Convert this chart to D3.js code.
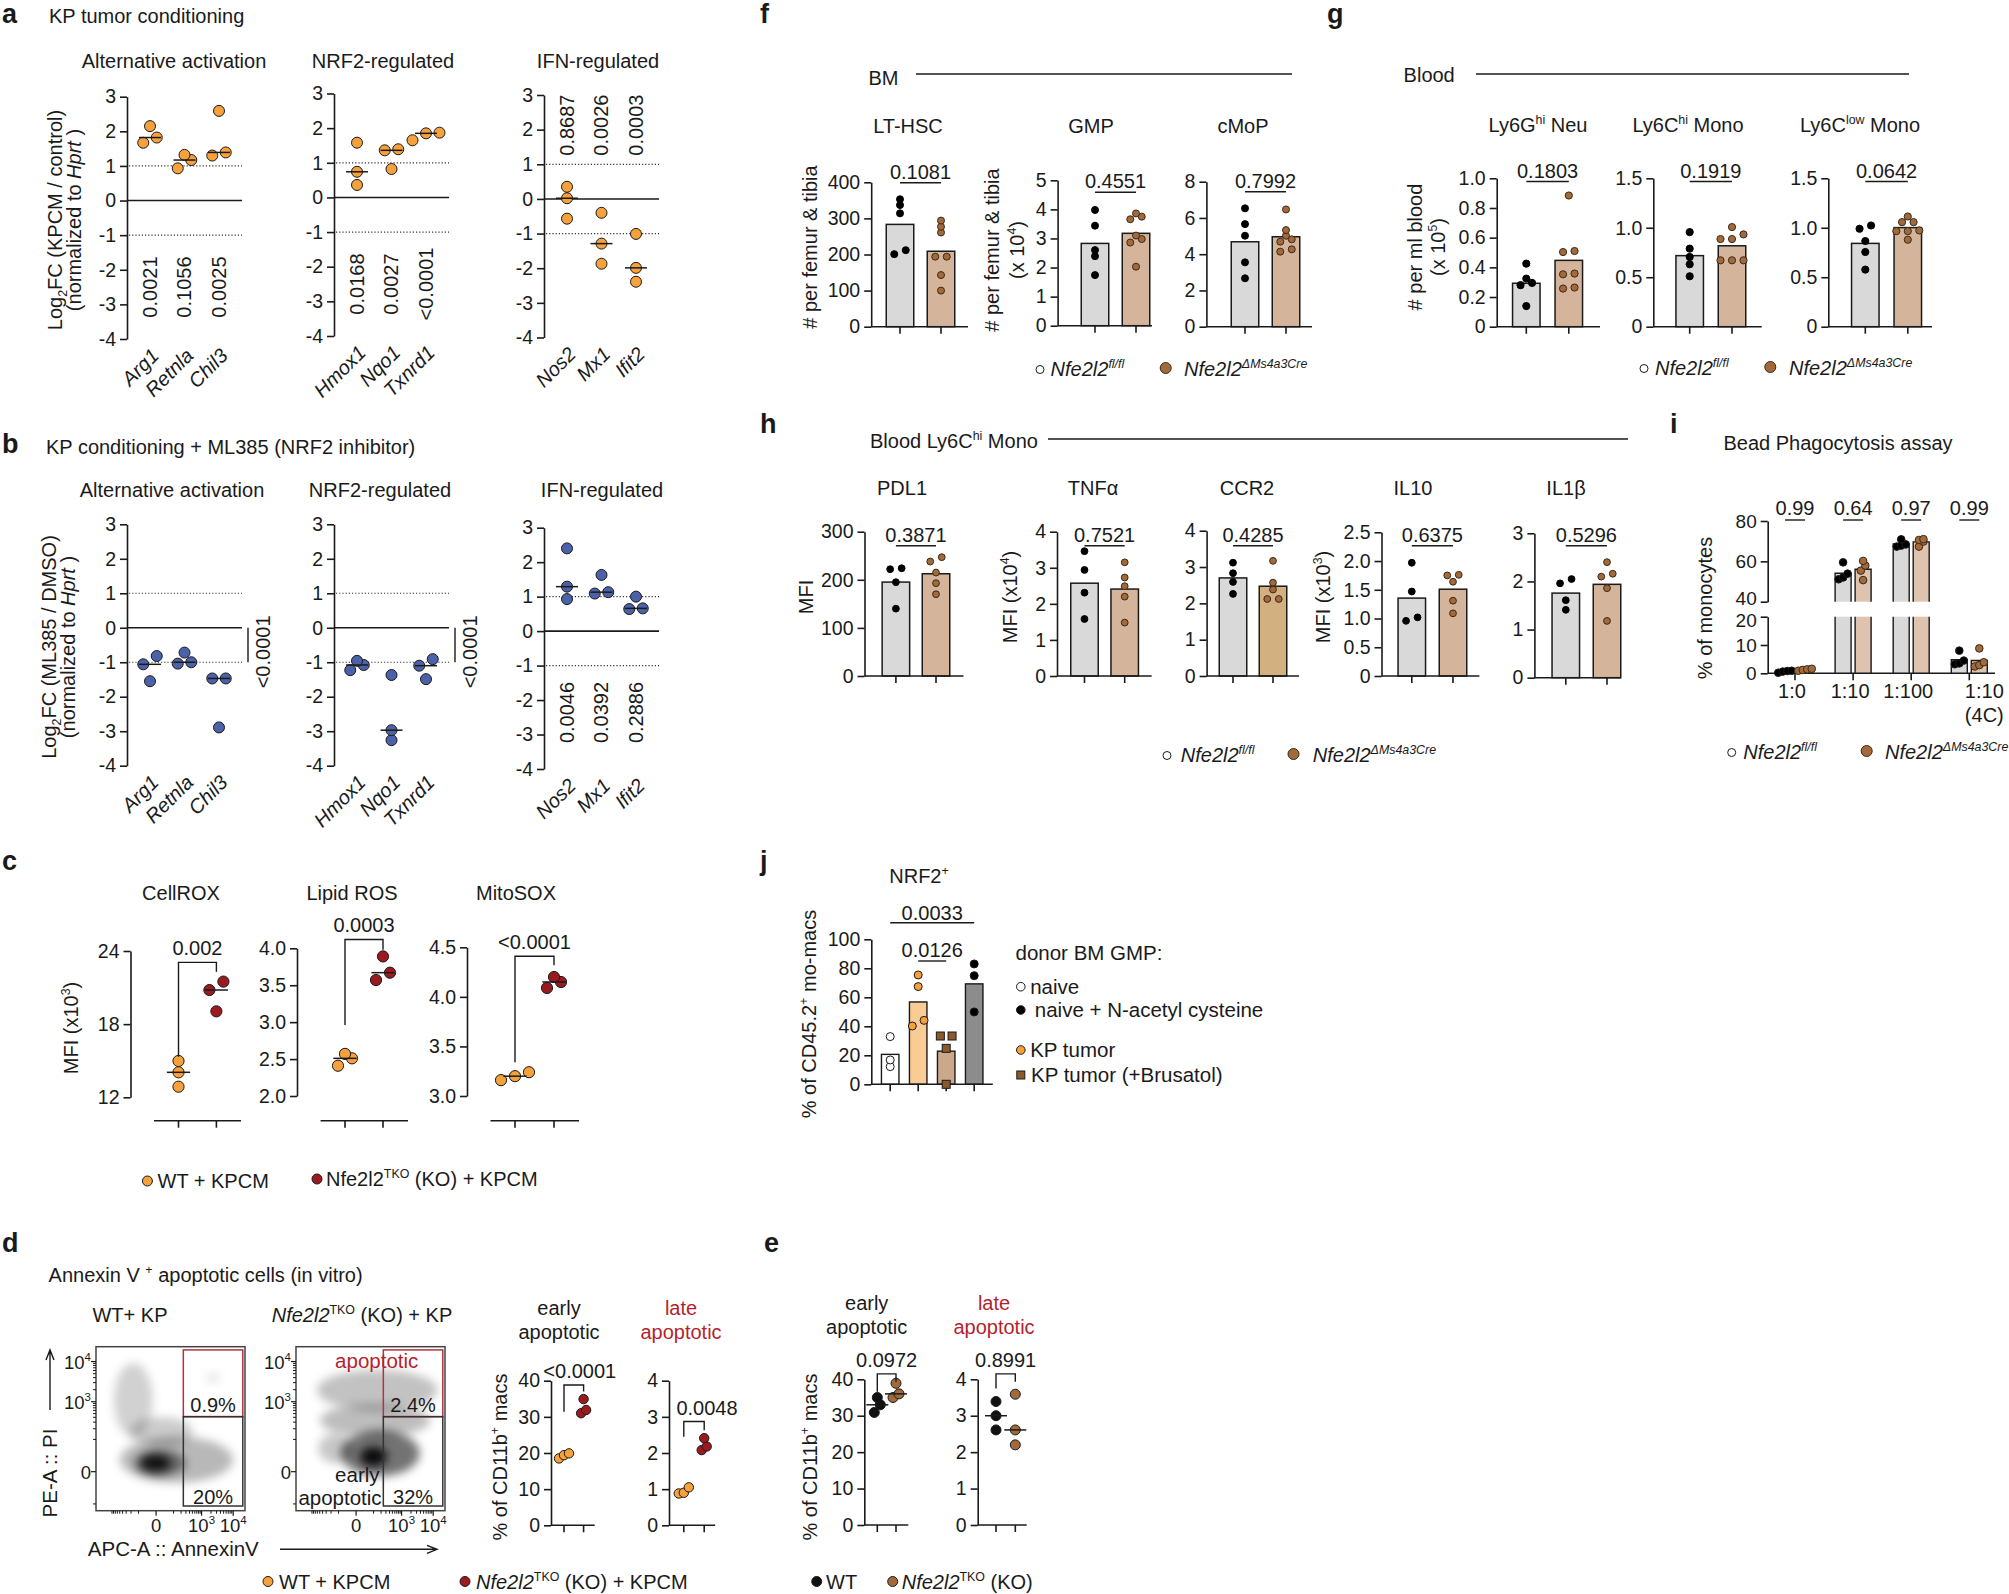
<!DOCTYPE html>
<html>
<head>
<meta charset="utf-8">
<script src="https://cdn.jsdelivr.net/npm/d3@7/dist/d3.min.js"></script>
<style>
  body { margin: 0; background: #fff; }
  svg text { font-family: "Liberation Sans", Arial, Helvetica, sans-serif; }
</style>
</head>
<body>
<svg id="figure" width="2009" height="1594"></svg>
<script>
'use strict'

// a, b: qPCR log2 fold changes
var foldGroups = ['Alternative activation', 'NRF2-regulated', 'IFN-regulated'];
var foldGenes = [['Arg1', 'Retnla', 'Chil3'], ['Hmox1', 'Nqo1', 'Txnrd1'], ['Nos2', 'Mx1', 'Ifit2']];
var foldTicks = [3, 2, 1, 0, -1, -2, -3, -4];
var kpFold = [
	[[1.67, 2.15, 1.82], [1.32, 0.93, 1.17], [1.30, 2.59, 1.39]],
	[[1.58, 0.74, 0.36], [1.39, 0.82, 1.36], [1.65, 1.87, 1.85]],
	[[0.35, 0.02, -0.57], [-0.40, -1.29, -1.87], [-1.01, -1.99, -2.39]]
];
var kpFoldP = [['0.0021', '0.1056', '0.0025'], ['0.0168', '0.0027', '<0.0001'], ['0.8687', '0.0026', '0.0003']];
var mlFold = [
	[[-0.82, -1.55, -1.06], [-0.72, -1.04, -1.00], [-1.47, -1.47, -2.89]],
	[[-1.23, -0.96, -1.08], [-1.37, -2.97, -3.26], [-0.91, -1.49, -1.10]],
	[[2.40, 1.29, 0.93], [1.63, 1.09, 1.13], [1.00, 0.64, 0.66]]
];
var mlFoldP = ['<0.0001', '<0.0001', ['0.0046', '0.0392', '0.2886']];

// c: ROS probes, MFI x10^3
var rosAssays = ['CellROX', 'Lipid ROS', 'MitoSOX'];
var rosTicks = [[12, 18, 24], [2.0, 2.5, 3.0, 3.5, 4.0], [3.0, 3.5, 4.0, 4.5]];
var rosWT = [[14.98, 14.05, 12.87], [2.57, 2.41, 2.51], [3.16, 3.24, 3.20]];
var rosKO = [[21.49, 20.80, 19.05], [3.57, 3.89, 3.67], [4.20, 4.09, 4.15]];
var rosP = ['0.002', '0.0003', '<0.0001'];

// d, e: apoptosis
var apoTitles = [['early', 'apoptotic'], ['late', 'apoptotic']];
var apoTicks = [[0, 10, 20, 30, 40], [0, 1, 2, 3, 4]];
var vitroWT = [[18.5, 19.4, 19.9], [1.05, 0.88, 0.90]];
var vitroKO = [[34.9, 31.9, 31.0], [2.41, 2.18, 2.08]];
var vitroP = ['<0.0001', '0.0048'];
var vivoWT = [[35.0, 30.9, 33.0], [3.39, 3.00, 2.61]];
var vivoKO = [[38.9, 35.0, 36.0], [3.59, 2.61, 2.20]];
var vivoP = ['0.0972', '0.8991'];
var flowGatePct = [['0.9%', '20%'], ['2.4%', '32%']];
var flowGates = { annexin: [242, 19900], late: [416, 19400], early: [-115, 416] };
// density clouds: [AnnexinV range], [PI range], relative density
var flowDensityWT = [
	[[-495, 9900], [-16.7, 119], 0.28],
	[[-780, -11], [119, 9200], 0.18],
	[[-213, 518], [60, 403], 0.20],
	[[1416, 3770], [2990, 5260], 0.10],
	[[-150, 300], [-5, 45], 0.45],
	[[-80, 73], [0.4, 30], 0.85]
];
var flowDensityKO = [
	[[-620, 13700], [596, 6300], 0.24],
	[[-495, 8000], [119, 874], 0.26],
	[[-556, -11], [12, 147], 0.22],
	[[-80, 3770], [-5.6, 182], 0.55],
	[[13, 325], [6.7, 60], 0.90]
];

// f: bone marrow progenitors
var bmCells = ['LT-HSC', 'GMP', 'cMoP'];
var bmTicks = [[0, 100, 200, 300, 400], [0, 1, 2, 3, 4, 5], [0, 2, 4, 6, 8]];
var bmFl = [[353, 337, 314, 201, 212], [3.98, 3.44, 2.60, 2.39, 1.74], [6.53, 5.66, 5.02, 3.55, 2.67]];
var bmKO = [[294, 261, 277, 194, 194, 143, 100], [3.75, 3.86, 3.66, 2.98, 3.10, 2.86, 2.03], [6.47, 5.33, 4.82, 4.69, 5.02, 4.14, 4.27]];
var bmP = ['0.1081', '0.4551', '0.7992'];

// g: blood myeloid cells
var bloodCells = [['Ly6G', ['hi', '^'], ' Neu'], ['Ly6C', ['hi', '^'], ' Mono'], ['Ly6C', ['low', '^'], ' Mono']];
var bloodTicks = [[0, 0.2, 0.4, 0.6, 0.8, 1.0], [0, 0.5, 1.0, 1.5], [0, 0.5, 1.0, 1.5]];
var bloodFl = [[0.425, 0.324, 0.28, 0.295, 0.139], [0.956, 0.705, 0.631, 0.789, 0.51], [1.023, 0.99, 0.866, 0.755, 0.577]];
var bloodKO = [[0.884, 0.503, 0.51, 0.353, 0.358, 0.257, 0.264], [1.007, 0.933, 0.886, 0.886, 0.671, 0.671, 0.671], [1.114, 1.057, 1.057, 0.973, 0.966, 0.966, 0.879]];
var bloodP = ['0.1803', '0.1919', '0.0642'];

// h: blood Ly6Chi monocyte markers
var monoMarkers = ['PDL1', 'TNF\u03b1', 'CCR2', 'IL10', 'IL1\u03b2'];
var monoTicks = [[0, 100, 200, 300], [0, 1, 2, 3, 4], [0, 1, 2, 3, 4], [0, 0.5, 1.0, 1.5, 2.0, 2.5], [0, 1, 2, 3]];
var monoFl = [[222, 224, 195, 140], [3.46, 2.94, 2.31, 1.58], [3.12, 2.83, 2.59, 2.26], [1.97, 1.47, 0.96, 1.02], [1.96, 2.05, 1.61, 1.41]];
var monoKO = [[247, 238, 215, 193, 170], [3.15, 2.73, 2.49, 2.20, 1.48], [3.17, 2.57, 2.38, 2.12, 2.12], [1.76, 1.75, 1.64, 1.31, 1.09], [2.40, 2.10, 2.16, 1.86, 1.18]];
var monoP = ['0.3871', '0.7521', '0.4285', '0.6375', '0.5296'];

// i: bead phagocytosis
var phagoRatios = ['1:0', '1:10', '1:100', '1:10 (4C)'];
var phagoFl = [[0.2, 0.9, 0.8, 0.6], [51.1, 59.5, 53.9, 52.0], [70.9, 67.3, 68.4, 67.8], [8.0, 3.2, 4.5, 3.5]];
var phagoKO = [[0.9, 1.4, 1.2, 1.6], [60.2, 55.4, 57.9, 50.7], [67.3, 71.0, 70.6, 69.8], [8.8, 2.4, 3.9, 2.9]];
var phagoP = ['0.99', '0.64', '0.97', '0.99'];

// j: NRF2+ donor mo-macs
var nrf2Groups = ['naive', 'KP tumor', 'KP tumor (+Brusatol)', 'naive + N-acetyl cysteine'];
var nrf2Values = [[32.9, 16.8, 12.2], [75.4, 67.4, 40.2, 44.1], [33.3, 33.3, 24.8, 0], [83.0, 74.9, 49.9]];
var nrf2P = [['0.0033', 0, 3], ['0.0126', 1, 2]];

var colors = {
	ink: '#1a1a1a', orange: '#F6A13B', blue: '#4B62A9', darkRed: '#9A1A20',
	brown: '#A2693A', grey: '#D9D9D9', tan: '#D4B49B', tanLight: '#DEC3AE', red: '#B51F2E'
};
var LETTER = { size: 27, bold: true };
var TICK = 19.5;
var fmt1 = function(d) { return d === 0 ? '0' : d3.format('.1f')(d); };

var app = {
	init: function() {
		app.svg = d3.select('#figure');
		var defs = app.svg.append('defs');
		defs.append('filter').attr('id', 'blur')
			.attr('x', '-50%').attr('y', '-50%').attr('width', '200%').attr('height', '200%')
			.append('feGaussianBlur').attr('stdDeviation', 5);

		app.panelA();
		app.panelB();
		app.panelC();
		app.panelD();
		app.panelE();
		app.panelF();
		app.panelG();
		app.panelH();
		app.panelI();
		app.panelJ();
	},

	text: function(x, y, parts, o) {
		o = o || {};
		var fs = o.size || 20;
		var t = app.svg.append('text')
			.attr('x', x).attr('y', y)
			.attr('font-size', fs)
			.attr('text-anchor', o.anchor || 'start')
			.attr('fill', o.color || colors.ink);
		if (o.rotate) { t.attr('transform', 'rotate(' + o.rotate + ' ' + x + ' ' + y + ')'); }
		if (o.bold) { t.attr('font-weight', 'bold'); }
		if (o.italic) { t.attr('font-style', 'italic'); }
		var shift = 0;
		(typeof parts === 'string' ? [parts] : parts).forEach(function(p) {
			if (typeof p === 'string') { p = [p, '']; }
			var span = t.append('tspan').text(p[0]);
			var target = p[1].indexOf('^') > -1 ? -fs * 0.4 : (p[1].indexOf('_') > -1 ? fs * 0.25 : 0);
			if (target) { span.attr('font-size', fs * 0.62); }
			if (p[1].indexOf('i') > -1) { span.attr('font-style', 'italic'); }
			if (target !== shift) { span.attr('dy', target - shift); shift = target; }
		});
		return t;
	},

	line: function(x1, y1, x2, y2, o) {
		o = o || {};
		return app.svg.append('line')
			.attr('x1', x1).attr('y1', y1).attr('x2', x2).attr('y2', y2)
			.attr('stroke', o.color || colors.ink)
			.attr('stroke-width', o.width || 1.6)
			.attr('stroke-dasharray', o.dash || null);
	},

	axis: function(x, y, ticks, fmt, size) {
		var g = app.svg.append('g')
			.attr('transform', 'translate(' + x + ',0)')
			.call(d3.axisLeft(y).tickValues(ticks).tickFormat(fmt || String)
				.tickSize(7).tickSizeOuter(0).tickPadding(4));
		g.select('.domain').attr('stroke', colors.ink).attr('stroke-width', 1.6);
		g.selectAll('.tick line').attr('stroke', colors.ink).attr('stroke-width', 1.6);
		g.selectAll('.tick text').attr('fill', colors.ink).style('font-size', (size || TICK) + 'px');
		return g;
	},

	baseAxis: function(x0, x1, y0, centers) {
		app.line(x0, y0, x1, y0);
		centers.forEach(function(c) { app.line(c, y0, c, y0 + 7); });
	},

	dots: function(cx, vals, y, o) {
		var pts = vals.map(function(v) { return { v: v, y: y(v) }; })
			.sort(function(a, b) { return b.y - a.y; });
		var rows = [];
		pts.forEach(function(p) {
			var row = rows[rows.length - 1];
			if (row && Math.abs(row[0].y - p.y) < o.minDist) { row.push(p); } else { rows.push([p]); }
		});
		rows.forEach(function(row) {
			row.forEach(function(p, k) { p.x = cx + (k - (row.length - 1) / 2) * o.step; });
		});
		var sel = app.svg.append('g').selectAll('.pt').data(pts).join(o.square ? 'rect' : 'circle');
		if (o.square) {
			sel.attr('x', function(d) { return d.x - o.r; }).attr('y', function(d) { return d.y - o.r; })
				.attr('width', o.r * 2).attr('height', o.r * 2);
		} else {
			sel.attr('cx', function(d) { return d.x; }).attr('cy', function(d) { return d.y; }).attr('r', o.r);
		}
		sel.attr('fill', o.fill).attr('stroke', o.stroke || colors.ink).attr('stroke-width', o.sw || 1);
	},

	median: function(cx, vals, y, half) {
		var m = d3.median(vals);
		app.line(cx - half, y(m), cx + half, y(m), { width: 1.5 });
	},

	drawFold: function(values, pvals, o) {
		foldGroups.forEach(function(name, gi) {
			var ax = o.axes[gi];
			var y = d3.scaleLinear().domain([3, -4]).range(o.ranges[gi]);
			var x = d3.scalePoint().domain(foldGenes[gi]).range([ax + 23, ax + 92]);
			var xEnd = ax + 115;

			app.text(o.titleX[gi], o.titleY, name, { anchor: 'middle' });
			[1, -1].forEach(function(v) {
				app.line(ax + 2, y(v), xEnd, y(v), { width: 1.2, dash: '1.2 2', color: '#333' });
			});
			app.line(ax, y(0), xEnd, y(0), { width: 1.6 });
			app.axis(ax, y, foldTicks, String);

			foldGenes[gi].forEach(function(gene, ci) {
				var cx = x(gene);
				app.dots(cx, values[gi][ci], y, { r: 5.5, fill: o.color, minDist: 9, step: 13.5 });
				app.median(cx, values[gi][ci], y, 11);
				app.text(cx + 10, y(-4) + 18, [[gene, 'i']], { anchor: 'end', rotate: -45 });
				if (Array.isArray(pvals[gi])) {
					app.text(cx + 7, y(o.pAt[gi]), pvals[gi][ci], { anchor: 'middle', rotate: -90 });
				}
			});
			if (!Array.isArray(pvals[gi])) {
				app.line(ax + 121, y(0), ax + 121, y(-1), { width: 1.4 });
				app.text(ax + 143, y(-0.7), pvals[gi], { anchor: 'middle', rotate: -90 });
			}
		});
	},

	drawPair: function(o) {
		var y = d3.scaleLinear().domain(d3.extent(o.ticks)).range(o.range);
		var x = d3.scalePoint().domain(['WT', 'KO']).range(o.centers);
		app.axis(o.ax, y, o.ticks, o.fmt);
		app.baseAxis(o.xa[0], o.xa[1], o.xa[2], o.centers);
		[o.wt, o.ko].forEach(function(vals, k) {
			var cx = x(k ? 'KO' : 'WT');
			app.dots(cx, vals, y, { r: o.r, fill: o.colors[k], minDist: o.minDist, step: o.step });
			if (o.median) { app.median(cx, vals, y, o.r + 6); }
		});
		var b = o.bracket;
		app.svg.append('path')
			.attr('d', 'M' + o.centers[0] + ',' + y(b[1]) + 'V' + y(b[0]) + 'H' + o.centers[1] + 'V' + y(b[2]))
			.attr('fill', 'none').attr('stroke', colors.ink).attr('stroke-width', 1.4);
		app.text((o.centers[0] + o.centers[1]) / 2 + (o.pDx || 0), y(b[0]) - 7, o.p, { anchor: 'middle' });
		o.title.forEach(function(t, i) {
			app.text(o.titleX, o.titleY + i * 24, t, { anchor: 'middle', color: o.titleColor });
		});
	},

	drawBars: function(o) {
		var y = d3.scaleLinear().domain([0, o.max]).range([o.y0, o.y1]);
		var x = d3.scalePoint().domain(['fl', 'ko']).range(o.centers);
		var sets = [o.fl, o.ko];
		sets.forEach(function(vals, k) {
			var m = d3.mean(vals);
			app.svg.append('rect')
				.attr('x', x(k ? 'ko' : 'fl') - o.bw / 2).attr('y', y(m))
				.attr('width', o.bw).attr('height', y(0) - y(m))
				.attr('fill', k ? (o.koFill || colors.tan) : colors.grey)
				.attr('stroke', colors.ink).attr('stroke-width', 1.5);
		});
		app.axis(o.ax, y, o.ticks, o.fmt);
		app.baseAxis(o.ax, o.xEnd, y(0), o.centers);
		sets.forEach(function(vals, k) {
			app.dots(x(k ? 'ko' : 'fl'), vals, y, {
				r: o.r, fill: k ? colors.brown : '#000', stroke: k ? '#3a2a1a' : '#000',
				minDist: 5.5, step: 11.5
			});
		});
		app.line(o.centers[0], o.pY, o.centers[1], o.pY, { width: 1.5 });
		app.text((o.centers[0] + o.centers[1]) / 2, o.pY - 4, o.p, { anchor: 'middle' });
		app.text(o.titleX, o.titleY, o.title, { anchor: 'middle' });
	},

	legendFl: function(xs, yb) {
		app.svg.append('circle').attr('cx', xs[0]).attr('cy', yb - 6.5).attr('r', 4)
			.attr('fill', '#fff').attr('stroke', colors.ink).attr('stroke-width', 1);
		app.text(xs[1], yb, [['Nfe2l2', 'i'], ['fl/fl', 'i^']]);
		app.svg.append('circle').attr('cx', xs[2]).attr('cy', yb - 8).attr('r', 5.5)
			.attr('fill', colors.brown).attr('stroke', '#3a2a1a').attr('stroke-width', 1);
		app.text(xs[3], yb, [['Nfe2l2', 'i'], ['\u0394Ms4a3Cre', 'i^']]);
	},

	legendDot: function(cx, cy, r, fill, tx, parts) {
		app.svg.append('circle').attr('cx', cx).attr('cy', cy).attr('r', r)
			.attr('fill', fill).attr('stroke', colors.ink).attr('stroke-width', 1);
		app.text(tx, cy + 7, parts);
	},

	drawFlow: function(o) {
		var svg = app.svg;
		var x = d3.scaleSymlog().constant(40).domain([-2910, 23300]).range([o.x0, o.x1]);
		var y = d3.scaleSymlog().constant(19).domain([-156, 23300]).range([o.y1, o.y0]);
		svg.select('defs').append('clipPath').attr('id', o.id).append('rect')
			.attr('x', o.x0).attr('y', o.y0).attr('width', o.x1 - o.x0).attr('height', o.y1 - o.y0);
		svg.append('g').attr('clip-path', 'url(#' + o.id + ')')
			.selectAll('ellipse').data(o.density).join('ellipse')
			.attr('cx', function(d) { return (x(d[0][0]) + x(d[0][1])) / 2; })
			.attr('cy', function(d) { return (y(d[1][0]) + y(d[1][1])) / 2; })
			.attr('rx', function(d) { return (x(d[0][1]) - x(d[0][0])) / 2; })
			.attr('ry', function(d) { return (y(d[1][0]) - y(d[1][1])) / 2; })
			.attr('fill', '#000').attr('fill-opacity', function(d) { return d[2]; })
			.attr('filter', 'url(#blur)');
		svg.append('rect').attr('x', o.x0).attr('y', o.y0)
			.attr('width', o.x1 - o.x0).attr('height', o.y1 - o.y0)
			.attr('fill', 'none').attr('stroke', '#444').attr('stroke-width', 1.5);

		var gx0 = x(flowGates.annexin[0]), gx1 = x(flowGates.annexin[1]);
		svg.append('rect').attr('x', gx0).attr('y', y(flowGates.late[1]))
			.attr('width', gx1 - gx0).attr('height', y(flowGates.late[0]) - y(flowGates.late[1]))
			.attr('fill', 'none').attr('stroke', '#B0343E').attr('stroke-width', 1.5);
		svg.append('rect').attr('x', gx0).attr('y', y(flowGates.early[1]))
			.attr('width', gx1 - gx0).attr('height', y(flowGates.early[0]) - y(flowGates.early[1]))
			.attr('fill', 'none').attr('stroke', '#333').attr('stroke-width', 1.5);
		app.text((gx0 + gx1) / 2, y(flowGates.late[0]) - 5, o.pct[0], { anchor: 'middle' });
		app.text((gx0 + gx1) / 2, y(flowGates.early[0]) - 2, o.pct[1], { anchor: 'middle' });

		var labels = [['0'], ['10', ['3', '^']], ['10', ['4', '^']]];
		[0, 1000, 10000].forEach(function(v, i) {
			app.line(o.x0 - 5, y(v), o.x0, y(v), { width: 1.2 });
			app.line(x(v), o.y1, x(v), o.y1 + 5, { width: 1.2 });
			app.text(o.x0 - 5, y(v) + 7, labels[i], { anchor: 'end', size: 18.5 });
			app.text(x(v), o.y1 + 21, labels[i], { anchor: 'middle', size: 18.5 });
		});
		var minor = d3.range(-900, 0, 100).concat(d3.range(100, 1000, 100), d3.range(2000, 10000, 1000));
		minor.forEach(function(v) {
			app.line(x(v), o.y1, x(v), o.y1 + 3, { width: 1 });
			if (v > -150) { app.line(o.x0 - 3, y(v), o.x0, y(v), { width: 1 }); }
		});
	},

	panelA: function() {
		app.text(2, 23, 'a', LETTER);
		app.text(49, 23, 'KP tumor conditioning');
		app.drawFold(kpFold, kpFoldP, {
			axes: [127, 334, 544], ranges: [[96.7, 339], [93.5, 336], [95, 337.5]],
			titleX: [174, 383, 598], titleY: 68, color: colors.orange, pAt: [-2.5, -2.5, 2.13]
		});
		app.text(61.5, 220, ['Log', ['2', '_'], 'FC (KPCM / control)'], { anchor: 'middle', rotate: -90 });
		app.text(81, 220, ['(normalized to ', ['Hprt', 'i'], ' )'], { anchor: 'middle', rotate: -90 });
	},

	panelB: function() {
		app.text(2, 453, 'b', LETTER);
		app.text(46, 454, 'KP conditioning + ML385 (NRF2 inhibitor)');
		app.drawFold(mlFold, mlFoldP, {
			axes: [127, 334, 544], ranges: [[524.3, 765.7], [524.3, 765.7], [527.7, 769]],
			titleX: [172, 380, 602], titleY: 497, color: colors.blue, pAt: [0, 0, -2.36]
		});
		app.text(55.5, 647, ['Log', ['2', '_'], 'FC (ML385 / DMSO)'], { anchor: 'middle', rotate: -90 });
		app.text(75, 647, ['(normalized to ', ['Hprt', 'i'], ' )'], { anchor: 'middle', rotate: -90 });
	},

	panelC: function() {
		app.text(2, 870, 'c', LETTER);
		var lay = [
			{ ax: 130.5, range: [1097.3, 951], xa: [154, 241], centers: [178.5, 216.4], titleX: 181, bracket: [23.07, 15.33, 22.3], fmt: String },
			{ ax: 297, range: [1096, 948.3], xa: [320.6, 408], centers: [345, 383], titleX: 352, bracket: [4.12, 2.96, 3.98], fmt: d3.format('.1f') },
			{ ax: 467, range: [1096, 947.3], xa: [490.5, 579], centers: [515, 554], titleX: 516, bracket: [4.41, 3.34, 4.32], fmt: d3.format('.1f') }
		];
		rosAssays.forEach(function(name, i) {
			var L = lay[i];
			app.drawPair({
				ax: L.ax, range: L.range, ticks: rosTicks[i], fmt: L.fmt,
				xa: [L.xa[0], L.xa[1], 1120.7], centers: L.centers,
				wt: rosWT[i], ko: rosKO[i], colors: [colors.orange, colors.darkRed],
				r: 5.6, minDist: 9, step: 14, median: true,
				bracket: L.bracket, p: rosP[i], title: [name], titleX: L.titleX, titleY: 900
			});
		});
		app.text(77.5, 1028, ['MFI (x10', ['3', '^'], ')'], { anchor: 'middle', rotate: -90 });
		app.legendDot(147.4, 1181, 5, colors.orange, 157.5, 'WT + KPCM');
		app.legendDot(317, 1179, 5, colors.darkRed, 326, ['Nfe2l2', ['TKO', '^'], ' (KO) + KPCM']);
	},

	panelD: function() {
		app.text(2, 1252, 'd', LETTER);
		app.text(48.6, 1282, ['Annexin V ', ['+', '^'], ' apoptotic cells (in vitro)']);
		app.text(130, 1322, 'WT+ KP', { anchor: 'middle' });
		app.text(362, 1322, [['Nfe2l2', 'i'], ['TKO', '^'], ' (KO) + KP'], { anchor: 'middle' });

		app.drawFlow({ id: 'flowWT', x0: 96, x1: 245, y0: 1346.7, y1: 1510.7, density: flowDensityWT, pct: flowGatePct[0] });
		app.drawFlow({ id: 'flowKO', x0: 296, x1: 445, y0: 1346.7, y1: 1510.7, density: flowDensityKO, pct: flowGatePct[1] });
		app.text(376.7, 1368.3, 'apoptotic', { anchor: 'middle', color: colors.red, size: 20.5 });
		app.text(357.3, 1481.7, 'early', { anchor: 'middle', size: 20.5 });
		app.text(340, 1505, 'apoptotic', { anchor: 'middle', size: 20.5 });

		app.text(57, 1473, 'PE-A :: PI', { anchor: 'middle', rotate: -90, size: 20.5 });
		app.svg.append('path').attr('d', 'M50,1410V1352M46,1360L50,1350L54,1360')
			.attr('fill', 'none').attr('stroke', colors.ink).attr('stroke-width', 1.4);
		app.text(173.3, 1556, 'APC-A :: AnnexinV', { anchor: 'middle', size: 20.5 });
		app.svg.append('path').attr('d', 'M280,1549.3H435M427,1545.3L437,1549.3L427,1553.3')
			.attr('fill', 'none').attr('stroke', colors.ink).attr('stroke-width', 1.4);

		var lay = [
			{ ax: 551, xEnd: 594.7, centers: [564, 583.6], bracket: [38.8, 31.4, 37], titleX: 559, pDx: 6 },
			{ ax: 669, xEnd: 715.2, centers: [683.8, 704.2], bracket: [2.87, 2.45, 2.63], titleX: 681, pDx: 13 }
		];
		apoTitles.forEach(function(title, i) {
			var L = lay[i];
			app.drawPair({
				ax: L.ax, range: [1525.3, 1380.7], ticks: apoTicks[i],
				xa: [L.ax, L.xEnd, 1525.3], centers: L.centers,
				wt: vitroWT[i], ko: vitroKO[i], colors: [colors.orange, colors.darkRed],
				r: 4.7, minDist: 7, step: 5, median: false,
				bracket: L.bracket, p: vitroP[i], pDx: L.pDx, title: title, titleX: L.titleX, titleY: 1315,
				titleColor: i ? colors.red : colors.ink
			});
		});
		app.text(507, 1457, ['% of CD11b', ['+', '^'], ' macs'], { anchor: 'middle', rotate: -90 });
		app.legendDot(268, 1581.5, 5, colors.orange, 279, 'WT + KPCM');
		app.legendDot(465, 1581.5, 5, colors.darkRed, 476, [['Nfe2l2', 'i'], ['TKO', '^'], ' (KO) + KPCM']);
	},

	panelE: function() {
		app.text(764, 1252, 'e', LETTER);
		var lay = [
			{ ax: 864.3, xEnd: 908.3, centers: [877.3, 896], bracket: [41.5, 36.6, 39.3], titleX: 866.7 },
			{ ax: 977.7, xEnd: 1026.7, centers: [996, 1015.3], bracket: [4.15, 3.75, 3.93], titleX: 994 }
		];
		apoTitles.forEach(function(title, i) {
			var L = lay[i];
			app.drawPair({
				ax: L.ax, range: [1525, 1379.3], ticks: apoTicks[i],
				xa: [L.ax, L.xEnd, 1525], centers: L.centers,
				wt: vivoWT[i], ko: vivoKO[i], colors: ['#111', colors.brown],
				r: 5, minDist: 8, step: 6, median: true,
				bracket: L.bracket, p: vivoP[i], title: title, titleX: L.titleX, titleY: 1310,
				titleColor: i ? colors.red : colors.ink
			});
		});
		app.text(817, 1457, ['% of CD11b', ['+', '^'], ' macs'], { anchor: 'middle', rotate: -90 });
		app.legendDot(816.7, 1581.5, 5, '#111', 826, 'WT');
		app.legendDot(892.7, 1581.5, 5, colors.brown, 901.7, [['Nfe2l2', 'i'], ['TKO', '^'], ' (KO)']);
	},

	panelF: function() {
		app.text(760, 23, 'f', LETTER);
		app.text(868.5, 85, 'BM');
		app.line(916, 74, 1292, 74, { width: 1.4 });
		var lay = {
			ax: [871.2, 1057.6, 1206.4], y1: [182.3, 180.3, 181.7], y0: [326.7, 325.7, 326.7],
			xEnd: [968, 1152, 1312], centers: [[900, 941], [1095, 1136], [1245, 1286]],
			pY: [182.7, 192.3, 191.7], titleX: [908, 1091, 1243]
		};
		bmCells.forEach(function(name, i) {
			app.drawBars({
				ax: lay.ax[i], y0: lay.y0[i], y1: lay.y1[i], max: d3.max(bmTicks[i]), ticks: bmTicks[i],
				xEnd: lay.xEnd[i], centers: lay.centers[i], bw: 27.5, r: 3.5,
				fl: bmFl[i], ko: bmKO[i], p: bmP[i], pY: lay.pY[i],
				title: name, titleX: lay.titleX[i], titleY: 133
			});
		});
		app.text(817, 247, '# per femur & tibia', { anchor: 'middle', rotate: -90 });
		app.text(999, 250, '# per femur & tibia', { anchor: 'middle', rotate: -90 });
		app.text(1024, 250, ['(x 10', ['4', '^'], ')'], { anchor: 'middle', rotate: -90 });
		app.legendFl([1040, 1050.6, 1165.7, 1184], 376);
	},

	panelG: function() {
		app.text(1327, 23, 'g', LETTER);
		app.text(1403.6, 82, 'Blood');
		app.line(1476, 74, 1909, 74, { width: 1.4 });
		var lay = {
			ax: [1496.7, 1653.3, 1828.3], xEnd: [1600, 1761.7, 1932],
			centers: [[1526.3, 1568.8], [1689.7, 1732], [1865.3, 1907.8]],
			titleX: [1538, 1688, 1860]
		};
		bloodCells.forEach(function(name, i) {
			app.drawBars({
				ax: lay.ax[i], y0: 326.7, y1: 178.3, max: d3.max(bloodTicks[i]), ticks: bloodTicks[i], fmt: fmt1,
				xEnd: lay.xEnd[i], centers: lay.centers[i], bw: 27.5, r: 3.6,
				fl: bloodFl[i], ko: bloodKO[i], p: bloodP[i], pY: 181.5,
				title: name, titleX: lay.titleX[i], titleY: 132
			});
		});
		app.text(1421.5, 247, '# per ml blood', { anchor: 'middle', rotate: -90 });
		app.text(1445, 247, ['(x 10', ['5', '^'], ')'], { anchor: 'middle', rotate: -90 });
		app.legendFl([1644, 1655, 1770.3, 1789], 375);
	},

	panelH: function() {
		app.text(760, 433, 'h', LETTER);
		app.text(870, 448, ['Blood Ly6C', ['hi', '^'], ' Mono']);
		app.line(1048, 439, 1628, 439, { width: 1.4 });
		var lay = {
			ax: [864.5, 1057, 1206.6, 1381.5, 1534.4],
			y1: [531.7, 531.7, 530.7, 532.3, 533.3], y0: [676, 676, 676, 676, 677.7],
			xEnd: [963.5, 1151.6, 1299, 1479.4, 1620.8],
			centers: [[895.9, 936], [1084.5, 1124.7], [1233, 1273], [1411.8, 1453], [1565.8, 1607]],
			titleX: [902, 1093, 1247, 1413, 1566]
		};
		monoMarkers.forEach(function(name, i) {
			app.drawBars({
				ax: lay.ax[i], y0: lay.y0[i], y1: lay.y1[i], max: d3.max(monoTicks[i]), ticks: monoTicks[i],
				fmt: i === 3 ? fmt1 : String,
				xEnd: lay.xEnd[i], centers: lay.centers[i], bw: 27.5, r: 3.4,
				koFill: i === 2 ? '#D2B07F' : colors.tan,
				fl: monoFl[i], ko: monoKO[i], p: monoP[i], pY: 545.7,
				title: name, titleX: lay.titleX[i], titleY: 495
			});
		});
		app.text(813, 597, 'MFI', { anchor: 'middle', rotate: -90 });
		app.text(1016.5, 597, ['MFI (x10', ['4', '^'], ')'], { anchor: 'middle', rotate: -90 });
		app.text(1330, 597, ['MFI (x10', ['3', '^'], ')'], { anchor: 'middle', rotate: -90 });
		app.legendFl([1167, 1180.8, 1293.5, 1312.8], 762);
	},

	panelI: function() {
		var svg = app.svg;
		app.text(1670, 433, 'i', LETTER);
		app.text(1838, 450, 'Bead Phagocytosis assay', { anchor: 'middle' });
		var yLow = d3.scaleLinear().domain([0, 20]).range([673.3, 616.7]);
		var yHigh = d3.scaleLinear().domain([40, 80]).range([601.7, 521]);
		var yv = function(v) { return v <= 20 ? yLow(v) : yHigh(v); };
		var x = d3.scalePoint().domain(phagoRatios).range([1795, 1969.3]);

		phagoRatios.forEach(function(r, i) {
			[phagoFl[i], phagoKO[i]].forEach(function(vals, k) {
				var m = d3.mean(vals), left = x(r) + (k ? 2 : -18), right = left + 16;
				var fill = k ? colors.tanLight : colors.grey;
				var d;
				if (m <= 20) {
					svg.append('rect').attr('x', left).attr('y', yLow(m)).attr('width', 16)
						.attr('height', yLow(0) - yLow(m)).attr('fill', fill);
					d = 'M' + left + ',' + yLow(0) + 'V' + yLow(m) + 'H' + right + 'V' + yLow(0);
				} else {
					svg.append('rect').attr('x', left).attr('y', yLow(20)).attr('width', 16)
						.attr('height', yLow(0) - yLow(20)).attr('fill', fill);
					svg.append('rect').attr('x', left).attr('y', yHigh(m)).attr('width', 16)
						.attr('height', yHigh(40) - yHigh(m)).attr('fill', fill);
					d = 'M' + left + ',' + yLow(0) + 'V' + yLow(20) + 'M' + right + ',' + yLow(0) + 'V' + yLow(20) +
						'M' + left + ',' + yHigh(40) + 'V' + yHigh(m) + 'H' + right + 'V' + yHigh(40);
				}
				svg.append('path').attr('d', d).attr('fill', 'none').attr('stroke', colors.ink).attr('stroke-width', 1.4);
			});
		});
		var low = app.axis(1767.7, yLow, [0, 10, 20], String, 19);
		var high = app.axis(1767.7, yHigh, [40, 60, 80], String, 19);
		low.selectAll('.tick text').filter(function(d) { return d === 20; }).attr('dy', '0.5em');
		high.selectAll('.tick text').filter(function(d) { return d === 40; }).attr('dy', '0.15em');
		app.baseAxis(1767.7, 1995, yLow(0), x.domain().map(x));

		phagoRatios.forEach(function(r, i) {
			app.dots(x(r) - 10, phagoFl[i], yv, { r: 3.8, fill: '#000', minDist: 6, step: 4.5 });
			app.dots(x(r) + 10, phagoKO[i], yv, { r: 3.8, fill: colors.brown, stroke: '#3a2a1a', minDist: 6, step: 4.5 });
			app.text(x(r), 515, phagoP[i], { anchor: 'middle' });
			app.line(x(r) - 10, 520, x(r) + 10, 520, { width: 1.4 });
			var lines = r.split(' ');
			lines.forEach(function(t, k) {
				app.text(x(r) + (lines.length > 1 ? 15 : -3), 698.3 + k * 23.5, t, { anchor: 'middle' });
			});
		});
		app.text(1711.5, 608, '% of monocytes', { anchor: 'middle', rotate: -90 });
		app.legendFl([1731.7, 1743.3, 1866.7, 1885], 759);
	},

	panelJ: function() {
		var svg = app.svg;
		var style = [
			{ bar: '#fff', dot: '#fff' },
			{ bar: '#F9CB95', dot: colors.orange },
			{ bar: '#C9A88B', dot: '#8B5A2B', square: true },
			{ bar: '#8C8C8C', dot: '#000' }
		];
		app.text(760, 870, 'j', LETTER);
		app.text(919, 883, ['NRF2', ['+', '^']], { anchor: 'middle' });
		var y = d3.scaleLinear().domain([0, 100]).range([1084.3, 939.3]);
		var x = d3.scalePoint().domain(nrf2Groups).range([890.2, 974.2]);

		nrf2Groups.forEach(function(g, i) {
			var m = d3.mean(nrf2Values[i]);
			svg.append('rect').attr('x', x(g) - 8.75).attr('y', y(m)).attr('width', 17.5)
				.attr('height', y(0) - y(m)).attr('fill', style[i].bar)
				.attr('stroke', colors.ink).attr('stroke-width', 1.4);
		});
		app.axis(871.3, y, [0, 20, 40, 60, 80, 100], String);
		app.baseAxis(871.3, 992.8, y(0), nrf2Groups.map(x));
		nrf2Groups.forEach(function(g, i) {
			app.dots(x(g), nrf2Values[i], y, {
				r: 4, fill: style[i].dot, square: style[i].square, minDist: 6, step: 11.7
			});
		});
		nrf2P.forEach(function(p, k) {
			var x0 = x(nrf2Groups[p[1]]), x1 = x(nrf2Groups[p[2]]);
			var ly = k ? 961 : 922.7;
			app.line(x0, ly, x1, ly, { width: 1.4 });
			app.text((x0 + x1) / 2, ly - (k ? 4.3 : 2.7), p[0], { anchor: 'middle' });
		});
		app.text(815.5, 1014, ['% of CD45.2', ['+', '^'], ' mo-macs'], { anchor: 'middle', rotate: -90 });

		app.text(1015.5, 960, 'donor BM GMP:', { size: 20.5 });
		var legendOrder = [[0, 986.7, 1030.2], [3, 1010, 1034.8], [1, 1050, 1030.2], [2, 1075, 1031]];
		legendOrder.forEach(function(e) {
			var st = style[e[0]];
			if (st.square) {
				svg.append('rect').attr('x', 1016.8).attr('y', e[1] - 4).attr('width', 8).attr('height', 8)
					.attr('fill', st.dot).attr('stroke', colors.ink);
			} else {
				svg.append('circle').attr('cx', 1020.8).attr('cy', e[1]).attr('r', 4.3)
					.attr('fill', st.dot).attr('stroke', colors.ink);
			}
			app.text(e[2], e[1] + 7, nrf2Groups[e[0]], { size: 20.5 });
		});
	}
};

app.init();
</script>
</body>
</html>
